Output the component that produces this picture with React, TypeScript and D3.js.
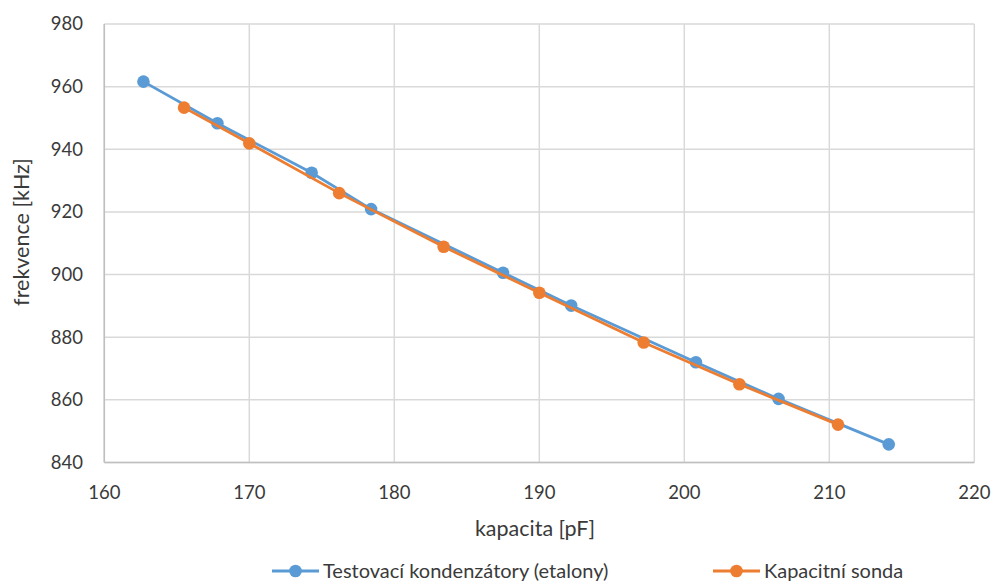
import React from "react";
import * as d3 from "d3";

const blueX = [162.7, 167.8, 174.3, 178.4, 187.5, 192.2, 200.8, 206.5, 214.1];
const blueY = [961.6, 948.3, 932.5, 920.9, 900.6, 890.1, 872.0, 860.3, 845.8];
const orangeX = [165.5, 170.0, 176.2, 183.4, 190.0, 197.2, 203.8, 210.6];
const orangeY = [953.3, 941.9, 926.0, 908.9, 894.2, 878.3, 865.0, 852.1];
const xTicks = [160, 170, 180, 190, 200, 210, 220];
const yTicks = [840, 860, 880, 900, 920, 940, 960, 980];
const seriesNames = ["Testovací kondenzátory (etalony)", "Kapacitní sonda"];
const colors = ["#5B9BD5", "#ED7D31"];

export default function App() {
  const W = 993, H = 584;
  const x = d3.scaleLinear().domain([160, 220]).range([104.3, 974.3]);
  const y = d3.scaleLinear().domain([840, 980]).range([462.5, 24]);
  const line = d3.line<[number, number]>().x(d => x(d[0])).y(d => y(d[1]));
  const series = [
    blueX.map((v, i) => [v, blueY[i]] as [number, number]),
    orangeX.map((v, i) => [v, orangeY[i]] as [number, number]),
  ];
  const font = "Lato, 'Open Sans', sans-serif";
  const legendX = [272, 713];
  return (
    <svg width={W} height={H} style={{ position: "absolute", left: 0, top: 0, background: "#fff" }}>
      <rect width={W} height={H} fill="#fff" />
      {xTicks.map(t => (
        <line key={"gx" + t} x1={x(t)} x2={x(t)} y1={y(980)} y2={y(840)} stroke="#d9d9d9" strokeWidth={1.5} />
      ))}
      {yTicks.map(t => (
        <line key={"gy" + t} x1={x(160)} x2={x(220)} y1={y(t)} y2={y(t)} stroke="#d9d9d9" strokeWidth={1.5} />
      ))}
      <line x1={x(160)} x2={x(160)} y1={y(980)} y2={y(840)} stroke="#bfbfbf" strokeWidth={1.5} />
      <line x1={x(160)} x2={x(220)} y1={y(840)} y2={y(840)} stroke="#bfbfbf" strokeWidth={1.5} />
      {yTicks.map(t => (
        <text key={"ty" + t} x={83} y={y(t)} dy="0.35em" textAnchor="end" fontSize={18.5} fill="#3a3a3a" fontFamily={font}>{t}</text>
      ))}
      {xTicks.map(t => (
        <text key={"tx" + t} x={x(t)} y={492.5} dy="0.35em" textAnchor="middle" fontSize={18.5} fill="#3a3a3a" fontFamily={font}>{t}</text>
      ))}
      <text x={535} y={528} dy="0.35em" textAnchor="middle" fontSize={21.5} fill="#3a3a3a" fontFamily={font}>kapacita [pF]</text>
      <text transform="translate(21,232) rotate(-90)" dy="0.35em" textAnchor="middle" fontSize={21.5} fill="#3a3a3a" fontFamily={font}>frekvence [kHz]</text>
      {series.map((s, i) => (
        <g key={"s" + i}>
          <path d={line(s) || ""} fill="none" stroke={colors[i]} strokeWidth={2.8} />
          {s.map((p, j) => (
            <circle key={j} cx={x(p[0])} cy={y(p[1])} r={6.3} fill={colors[i]} />
          ))}
        </g>
      ))}
      {seriesNames.map((n, i) => (
        <g key={"l" + i}>
          <line x1={legendX[i]} x2={legendX[i] + 47} y1={571} y2={571} stroke={colors[i]} strokeWidth={2.8} />
          <circle cx={legendX[i] + 23.5} cy={571} r={6.3} fill={colors[i]} />
          <text x={legendX[i] + 51} y={571} dy="0.35em" fontSize={20} fill="#3a3a3a" fontFamily={font}>{n}</text>
        </g>
      ))}
    </svg>
  );
}
